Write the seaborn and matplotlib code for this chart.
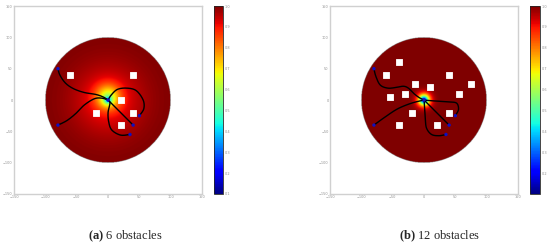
import numpy as np
import pandas as pd
import matplotlib
matplotlib.use('Agg')
import matplotlib.pyplot as plt
import seaborn as sns

sns.set_style('white')
plt.rcParams['mathtext.fontset'] = 'custom'
plt.rcParams['mathtext.bf'] = 'Liberation Serif:bold'

# obstacle centres
obs_a_x = [-60, 40, 20, -20, 40, 20]
obs_a_y = [40, 40, 0, -20, -20, -40]
obs_b_x = [-40, -60, 40, 75, -15, 10, -30, -55, 55, -20, 40, -40, 20]
obs_b_y = [60, 40, 40, 25, 25, 20, 10, 5, 10, -20, -20, -40, -40]

# start points of the robots (goal at the origin)
start_x = [-80, -80, 35, 40, 50]
start_y = [50, -40, -55, -40, -25]

# trajectory waypoints, panel (a)
traj_a = [
    ([-80, -77, -68, -55, -38, -20, -8, 0], [50, 40, 27, 18, 12, 9, 5, 0]),
    ([-80, -66, -52, -38, -22, -10, 0], [-40, -33, -22, -8, 2, 3, 0]),
    ([35, 20, 6, 1, 0, 3, 0], [-55, -56, -48, -35, -20, -5, 0]),
    ([40, 30, 19, 9, 0], [-40, -30, -19, -9, 0]),
    ([50, 57, 56, 45, 30, 15, 5, 0], [-25, -14, 0, 15, 19, 17, 8, 0]),
]
# trajectory waypoints, panel (b)
traj_b = [
    ([-80, -77, -70, -58, -45, -33, -25, -17, -8, 0], [50, 38, 24, 19, 20, 22, 19, 11, 4, 0]),
    ([-80, -62, -42, -20, 0], [-40, -27, -14, -5, 0]),
    ([35, 24, 12, 4, 2, 1, 0], [-55, -57, -55, -45, -30, -12, 0]),
    ([40, 0], [-40, 0]),
    ([50, 55, 52, 40, 25, 10, 0], [-25, -15, -5, -3, -2, -1, 0]),
]

cbar_ticks_a = [0.1, 0.2, 0.3, 0.4, 0.5, 0.6, 0.7, 0.8, 0.9, 1.0]
cbar_ticks_b = [0.2, 0.3, 0.4, 0.5, 0.6, 0.7, 0.8, 0.9, 1.0]


def smooth(xs, ys, n=30):
    pts = np.column_stack([xs, ys]).astype(float)
    if len(pts) < 3:
        return pts[:, 0], pts[:, 1]
    p = np.vstack([pts[0], pts, pts[-1]])
    out = []
    t = np.linspace(0, 1, n, endpoint=False)[:, None]
    for i in range(1, len(p) - 2):
        p0, p1, p2, p3 = p[i - 1], p[i], p[i + 1], p[i + 2]
        out.append(0.5 * ((2 * p1) + (-p0 + p2) * t + (2 * p0 - 5 * p1 + 4 * p2 - p3) * t ** 2
                          + (-p0 + 3 * p1 - 3 * p2 + p3) * t ** 3))
    out.append(pts[-1][None, :])
    out = np.vstack(out)
    return out[:, 0], out[:, 1]


g = np.linspace(-150, 150, 601)
X, Y = np.meshgrid(g, g)
R = np.hypot(X, Y)
field_a = 1 - 0.6 * np.exp(-R / 4) - 0.25 * np.exp(-(X ** 2 + (Y - 5) ** 2) / (2 * 14 ** 2)) \
    - 0.1 * np.exp(-(R / 55) ** 2)
field_b = 1 - 0.9 * np.exp(-(R / 8) ** 1.5)
field_a = np.clip(field_a, 0.1, 1)
field_b = np.clip(field_b, 0.1, 1)
field_a[R > 100] = np.nan
field_b[R > 100] = np.nan

fig = plt.figure(figsize=(5.5, 2.46), dpi=100)
panels = [
    (field_a, obs_a_x, obs_a_y, traj_a, cbar_ticks_a, [0.0255, 0.2114, 0.342, 0.764],
     [0.389, 0.2114, 0.0164, 0.764], 0.227, r'$\mathbf{(a)}$ 6 obstacles'),
    (field_b, obs_b_x, obs_b_y, traj_b, cbar_ticks_b, [0.6, 0.2114, 0.342, 0.764],
     [0.9636, 0.2114, 0.0182, 0.764], 0.8, r'$\mathbf{(b)}$ 12 obstacles'),
]

for field, ox, oy, trajs, cticks, apos, cpos, capx, caption in panels:
    ax = fig.add_axes(apos)
    cax = fig.add_axes(cpos)
    im = ax.imshow(field, cmap='jet', vmin=0.1, vmax=1.0, origin='lower',
                   extent=[-150, 150, -150, 150], interpolation='bilinear')
    sns.scatterplot(x=ox, y=oy, ax=ax, marker='s', s=16, color='white',
                    edgecolor='white', linewidth=0.6, zorder=3)
    for k, (tx, ty) in enumerate(trajs):
        sx, sy = smooth(tx, ty)
        df = pd.DataFrame({'x': sx, 'y': sy})
        sns.lineplot(data=df, x='x', y='y', sort=False, ax=ax, color='black',
                     lw=1.0, zorder=4, estimator=None)
    sns.scatterplot(x=start_x + [0], y=start_y + [0], ax=ax, color='#1010c0',
                    s=6, edgecolor='none', zorder=5)
    ax.set_xlim(-150, 150)
    ax.set_ylim(-150, 150)
    ax.set_xticks(range(-150, 151, 50))
    ax.set_yticks(range(-150, 151, 50))
    ax.set_xlabel('')
    ax.set_ylabel('')
    ax.tick_params(labelsize=2.5, colors='#909090', length=0, pad=1)
    for sp in ax.spines.values():
        sp.set_color('#d0d0d0')
        sp.set_linewidth(1.0)
    cb = fig.colorbar(im, cax=cax, ticks=cticks)
    cb.ax.tick_params(labelsize=2.5, colors='#909090', length=0, pad=1)
    cb.outline.set_linewidth(0.6)
    fig.text(capx, 0.04, caption, ha='center', va='center', fontsize=9,
             family='Liberation Serif')

fig.savefig('out.png', dpi=100)
